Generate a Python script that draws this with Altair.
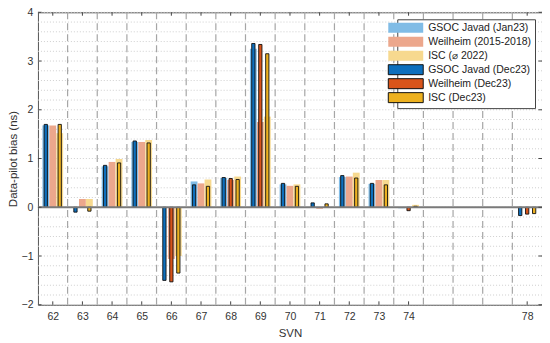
import altair as alt
import pandas as pd

# ---- data ----
svn = [62, 63, 64, 65, 66, 67, 68, 69, 70, 71, 72, 73, 74, 78]
gsoc_jan23 = [1.68, None, 0.84, 1.34, None, 0.53, 0.60, 3.25, 0.47, None, 0.62, 0.48, -0.02, None]
weilheim_hist = [1.68, 0.17, 0.93, 1.34, -1.06, 0.49, 0.56, 1.75, 0.44, -0.03, 0.63, 0.56, None, None]
isc_2022 = [1.52, 0.17, 0.99, 1.38, -1.00, 0.57, 0.63, 1.86, 0.47, None, 0.71, 0.56, 0.05, None]
gsoc_dec23 = [1.70, -0.10, 0.86, 1.36, -1.50, 0.46, 0.61, 3.36, 0.49, 0.09, 0.65, 0.49, None, -0.17]
weilheim_dec23 = [None, None, None, None, -1.53, None, 0.59, 3.34, None, None, None, None, -0.07, -0.14]
isc_dec23 = [1.70, -0.08, 0.91, 1.32, -1.35, 0.43, 0.57, 3.15, 0.43, 0.07, 0.60, 0.46, 0.02, -0.13]
y_ticks = [-2, -1, 0, 1, 2, 3, 4]

series_names = [
    "GSOC Javad (Jan23)", "Weilheim (2015-2018)", "ISC (\u2300 2022)",
    "GSOC Javad (Dec23)", "Weilheim (Dec23)", "ISC (Dec23)",
]
series_values = [gsoc_jan23, weilheim_hist, isc_2022, gsoc_dec23, weilheim_dec23, isc_dec23]
series_kind = ["light", "light", "light", "dark", "dark", "dark"]
series_group = [0, 1, 2, 0, 1, 2]
colors = ["#80bce6", "#eca78c", "#f7d98f", "#0d6fbd", "#d9541a", "#edb120"]
strokes = ["rgba(0,0,0,0)"] * 3 + ["#111111"] * 3

rows = []
for name, vals, kind, grp in zip(series_names, series_values, series_kind, series_group):
    for s, v in zip(svn, vals):
        if v is not None:
            rows.append({"svn": s, "series": name, "value": v, "kind": kind, "grp": grp})
df = pd.DataFrame(rows)

FONT = "Liberation Sans"
x_scale = alt.Scale(domain=[61.5, 78.5], nice=False, zero=False)
y_scale = alt.Scale(domain=[-2, 4], nice=False)
x_axis = alt.Axis(values=svn, format="d", title="SVN", grid=False, ticks=False,
                  domain=False, labelFontSize=10.5, labelColor="#333333",
                  labelOverlap=False, labelFlush=False, labelBound=False,
                  labelPadding=7, titleFontSize=11.5, titleFontWeight="normal",
                  titleColor="#333333", titlePadding=5, labelFont=FONT, titleFont=FONT)
y_axis = alt.Axis(values=y_ticks, title="Data-pilot bias (ns)", format="d",
                  grid=False, ticks=False, domain=False, labelFontSize=10.5,
                  labelOverlap=False, labelFlush=False, labelBound=False,
                  labelColor="#333333", labelPadding=5, titleFontSize=11.5,
                  titleFontWeight="normal", titleColor="#333333", titlePadding=3,
                  labelFont=FONT, titleFont=FONT)


def X(field):
    return alt.X(field, scale=x_scale, axis=x_axis, title="SVN")


def Y(field):
    return alt.Y(field, scale=y_scale, axis=y_axis, title="Data-pilot bias (ns)")


color_enc = alt.Color(
    "series:N",
    scale=alt.Scale(domain=series_names, range=colors),
    legend=alt.Legend(title=None),
    sort=series_names,
)
stroke_enc = alt.Stroke(
    "series:N",
    scale=alt.Scale(domain=series_names, range=strokes),
    sort=series_names,
)

base = alt.Chart(df).transform_calculate(xc="datum.svn + (datum.grp - 1) * 0.235")

light = base.transform_filter(alt.datum.kind == "light").transform_calculate(
    xa="datum.xc - 0.115", xb="datum.xc + 0.115"
).mark_bar(strokeWidth=0).encode(
    x=X("xa:Q"), x2="xb:Q", y=Y("value:Q"), y2=alt.datum(0),
    color=color_enc, stroke=stroke_enc,
)

dark = base.transform_filter(alt.datum.kind == "dark").transform_calculate(
    xa="datum.xc - 0.055", xb="datum.xc + 0.055"
).mark_bar(strokeWidth=0.9).encode(
    x=X("xa:Q"), x2="xb:Q", y=Y("value:Q"), y2=alt.datum(0),
    color=color_enc, stroke=stroke_enc,
)

hgrid = alt.Chart(alt.sequence(-2, 4.01, 0.2, as_="g")).mark_rule(
    color="#cfcfcf", strokeDash=[1, 2], strokeWidth=1
).encode(y=Y("g:Q"))

vgrid = alt.Chart(alt.sequence(62.5, 78, 1.0, as_="b")).mark_rule(
    color="#a6a6a6", strokeDash=[7, 4], strokeWidth=1.2
).encode(x=X("b:Q"))

zero = alt.Chart(alt.sequence(0, 1, 1, as_="z")).mark_rule(
    color="#7a7a7a", strokeWidth=2
).encode(y=Y("z:Q"))

xt = pd.DataFrame({"t": svn})
yt = pd.DataFrame({"t": y_ticks})
tick_color = "#444444"
xticks_bottom = alt.Chart(xt).mark_rule(color=tick_color).encode(
    x=X("t:Q"),
    y=alt.YDatum(-2, scale=y_scale, axis=y_axis), y2=alt.datum(-1.93))
xticks_top = alt.Chart(xt).mark_rule(color=tick_color).encode(
    x=X("t:Q"),
    y=alt.YDatum(4, scale=y_scale, axis=y_axis), y2=alt.datum(3.93))
yticks_left = alt.Chart(yt).mark_rule(color=tick_color).encode(
    y=Y("t:Q"),
    x=alt.XDatum(61.5, scale=x_scale, axis=x_axis), x2=alt.datum(61.62))
yticks_right = alt.Chart(yt).mark_rule(color=tick_color).encode(
    y=Y("t:Q"),
    x=alt.XDatum(78.5, scale=x_scale, axis=x_axis), x2=alt.datum(78.38))

chart = alt.layer(
    hgrid, vgrid, light, dark, zero,
    xticks_bottom, xticks_top, yticks_left, yticks_right,
).properties(
    width=505, height=293,
    autosize=alt.AutoSizeParams(type="none"),
    padding={"left": 30, "top": 4, "right": 0, "bottom": 36},
).configure_axis(
    labelOverlap=False, labelFlush=False
).configure_view(
    stroke="#555555", strokeWidth=1
).configure_legend(
    orient="top-right", offset=7, padding=3,
    strokeColor="#444444", fillColor="white", cornerRadius=0,
    labelFont=FONT, labelFontSize=10.5, labelColor="#222222",
    symbolType="M-3.5,-1H3.5V1H-3.5Z", symbolSize=100,
    symbolStrokeWidth=1, rowPadding=-1, labelOffset=17, labelLimit=200,
)

chart.save("out.html", embed_options={"renderer": "svg", "actions": False})
